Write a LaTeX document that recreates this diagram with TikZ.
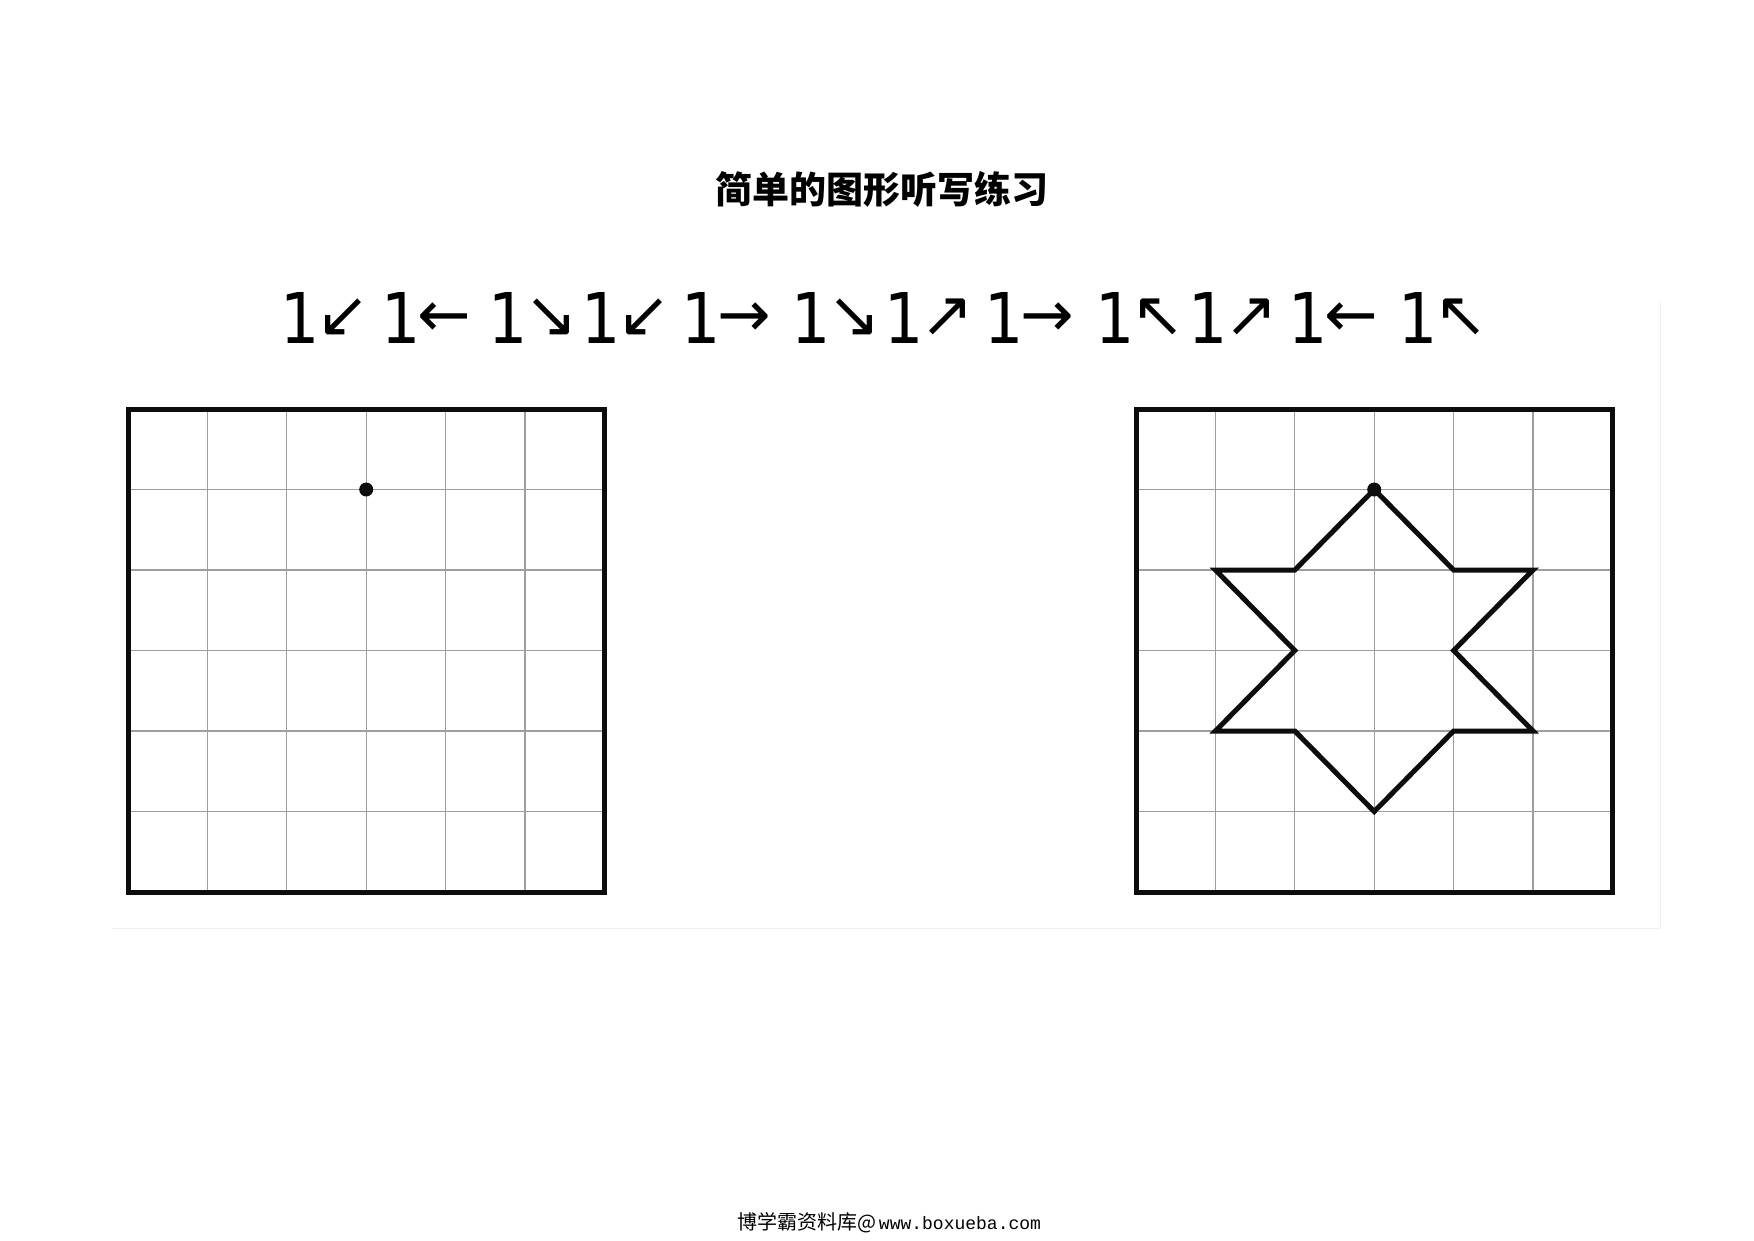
\documentclass[tikz,border=0pt]{standalone}
\usepackage{fontspec}
\newfontfamily\cjk{Noto Sans CJK SC}
\newfontfamily\dv{DejaVu Sans}
\newfontfamily\dvn[FakeStretch=0.88]{DejaVu Sans}
\newfontfamily\mono{Liberation Mono}
\newcommand\arw[1]{\kern-3pt\raisebox{7pt}{\dv\fontsize{64}{64}\selectfont #1}}
\tikzset{
  gridline/.style={draw=black!38, line width=1.3pt},
  frame/.style={draw=black!95, line width=5pt, line join=miter},
  starline/.style={draw=black!95, line width=5pt, line join=miter},
  faint/.style={draw=black!6, line width=1pt},
  cmd/.style={anchor=base west, inner sep=0pt, font=\dvn\fontsize{70}{70}\selectfont},
  titletxt/.style={inner sep=0pt, font=\cjk\bfseries\fontsize{37}{37}\selectfont},
}
\begin{document}
\begin{tikzpicture}[x=1pt,y=-1pt]
\useasboundingbox (0,0) rectangle (1754,1240);
\fill[white] (0,0) rectangle (1754,1240);
\draw[faint] (1660,301) -- (1660,928) -- (112,928);
% title
\node[titletxt] (title) at (882,189) {简单的图形听写练习};
% instruction row
\node[cmd] (s1) at (280,343) {1\arw{↙}};
\node[cmd] (s2) at (381,343) {1\arw{←}};
\node[cmd] (s3) at (488,343) {1\arw{↘}};
\node[cmd] (s4) at (581,343) {1\arw{↙}};
\node[cmd] (s5) at (681,343) {1\arw{→}};
\node[cmd] (s6) at (791,343) {1\arw{↘}};
\node[cmd] (s7) at (884,343) {1\arw{↗}};
\node[cmd] (s8) at (984,343) {1\arw{→}};
\node[cmd] (s9) at (1095,343) {1\arw{↖}};
\node[cmd] (s10) at (1188,343) {1\arw{↗}};
\node[cmd] (s11) at (1288,343) {1\arw{←}};
\node[cmd] (s12) at (1398,343) {1\arw{↖}};
% grids
\foreach \gx in {128,1136} {
  \foreach \i in {1,...,5} {
    \draw[gridline] (\gx+\i*79.4,409) -- (\gx+\i*79.4,892);
    \draw[gridline] (\gx,409+\i*80.5) -- (\gx+476.4,409+\i*80.5);
  }
  \draw[frame] (\gx,409) rectangle (\gx+476.4,892);
}
% left grid start dot
\begin{scope}[shift={(128,409)}, x=79.4pt, y=-80.5pt]
  \fill[black!95] (3,1) circle (7pt);
\end{scope}
% right grid star
\begin{scope}[shift={(1136,409)}, x=79.4pt, y=-80.5pt]
  \draw[starline] (3,1) -- (2,2) -- (1,2) -- (2,3) -- (1,4) -- (2,4) -- (3,5)
    -- (4,4) -- (5,4) -- (4,3) -- (5,2) -- (4,2) -- cycle;
  \fill[black!95] (3,1) circle (7pt);
\end{scope}
% footer
\node[inner sep=0pt] (footer) at (889,1223)
  {{\cjk\fontsize{20}{20}\selectfont 博学霸资料库@}{\mono\fontsize{18}{18}\selectfont\kern3pt www.boxueba.com}};
\end{tikzpicture}
\end{document}
